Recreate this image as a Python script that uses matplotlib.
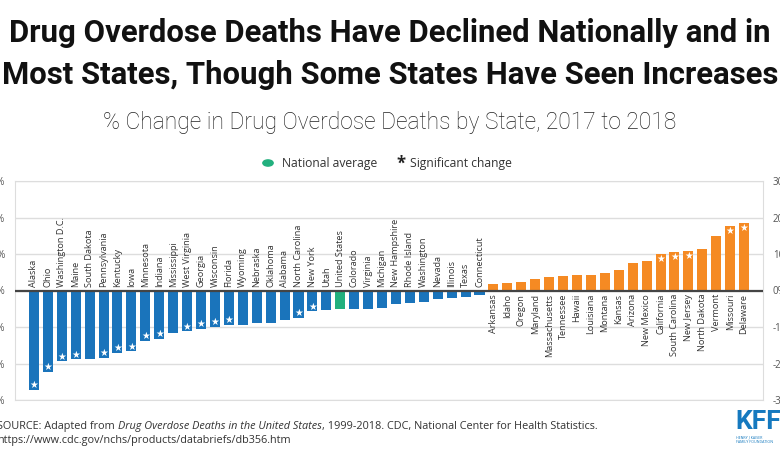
import matplotlib
matplotlib.use("Agg")
import matplotlib.pyplot as plt
import numpy as np

# % change 2017 -> 2018
states = ["Alaska", "Ohio", "Washington D.C.", "Maine", "South Dakota", "Pennsylvania",
          "Kentucky", "Iowa", "Minnesota", "Indiana", "Mississippi", "West Virginia",
          "Georgia", "Wisconsin", "Florida", "Wyoming", "Nebraska", "Oklahoma", "Alabama",
          "North Carolina", "New York", "Utah", "United States", "Colorado", "Virginia",
          "Michigan", "New Hampshire", "Rhode Island", "Washington", "Nevada", "Illinois",
          "Texas", "Connecticut",
          "Arkansas", "Idaho", "Oregon", "Maryland", "Massachusetts", "Tennessee", "Hawaii",
          "Louisiana", "Montana", "Kansas", "Arizona", "New Mexico", "California",
          "South Carolina", "New Jersey", "North Dakota", "Vermont", "Missouri", "Delaware"]
pct_change = [-27.3, -22.2, -19.4, -18.9, -18.9, -18.5, -17.0, -16.7, -13.8, -13.2, -11.7,
              -11.2, -10.6, -9.9, -9.5, -9.4, -8.9, -8.9, -8.2, -7.5, -5.7, -5.4, -5.1,
              -5.1, -5.0, -4.8, -3.8, -3.5, -3.2, -2.4, -2.0, -1.7, -1.3,
              1.7, 2.0, 2.2, 3.2, 3.8, 4.0, 4.2, 4.3, 4.8, 5.7, 7.6, 8.1, 9.9, 10.6, 10.7,
              11.3, 14.8, 17.6, 18.4]
significant = ["Alaska", "Ohio", "Washington D.C.", "Maine", "Pennsylvania", "Kentucky", "Iowa",
               "Minnesota", "Indiana", "West Virginia", "Georgia", "Wisconsin", "Florida",
               "North Carolina", "New York", "California", "South Carolina", "New Jersey",
               "Missouri", "Delaware"]
y_ticks = [-30, -20, -10, 0, 10, 20, 30]

BLUE = "#1a74bb"
ORANGE = "#f58a23"
GREEN = "#22b07e"
FONT = ["Open Sans", "DejaVu Sans"]
HEAD = ["Roboto", "DejaVu Sans"]

fig = plt.figure(figsize=(7.8, 4.7), dpi=100)
ax = fig.add_axes([15 / 780, 1 - 400 / 470, 748 / 780, 219 / 470])

x = np.arange(len(states))
vals = np.array(pct_change)
colors = []
for s, v in zip(states, vals):
    if s == "United States":
        colors.append(GREEN)
    elif v < 0:
        colors.append(BLUE)
    else:
        colors.append(ORANGE)
ax.bar(x, vals, width=0.72, color=colors, zorder=2)

# state labels sit on the other side of the zero line
for i, (s, v) in enumerate(zip(states, vals)):
    if v < 0:
        ax.text(i, 0.9, s, rotation=90, ha="center", va="bottom", fontsize=6.6,
                color="#333333", family=FONT)
    else:
        ax.text(i, -0.9, s, rotation=90, ha="center", va="top", fontsize=6.6,
                color="#333333", family=FONT)
    if s in significant:
        ax.text(i, v - np.sign(v) * 1.3, "\u2605", ha="center", va="center", fontsize=7,
                color="white", family=["DejaVu Sans"], zorder=3)

ax.axhline(0, color="#444444", lw=1.6, zorder=3)
ax.set_xlim(-1.36, len(states) - 1 + 1.36)
ax.set_ylim(-30, 30)
ax.set_yticks(y_ticks)
ax.yaxis.grid(True, color="#dddddd", lw=1)
ax.set_axisbelow(True)
ax.set_xticks([])
for sp in ax.spines.values():
    sp.set_color("#dddddd")
ax.tick_params(axis="y", length=0, labelsize=7, labelcolor="#555555", pad=7,
               labelright=True)
ax.set_yticklabels([f"{t}%" for t in y_ticks], family=FONT)

# titles
fig.text(0.5, 1 - 33 / 470, "Drug Overdose Deaths Have Declined Nationally and in",
         ha="center", va="center", fontsize=22.4, weight="bold", family=HEAD, color="#111111")
fig.text(0.5, 1 - 75 / 470, "Most States, Though Some States Have Seen Increases",
         ha="center", va="center", fontsize=22.4, weight="bold", family=HEAD, color="#111111")
fig.text(0.5, 1 - 123 / 470, "% Change in Drug Overdose Deaths by State, 2017 to 2018",
         ha="center", va="center", fontsize=16.4, weight="light", family=HEAD,
         color="#222222")

# legend
fig.patches.append(plt.Circle((268 / 780, 1 - 163 / 470), 0.0066, color=GREEN,
                              transform=fig.transFigure, figure=fig))
fig.text(282 / 780, 1 - 163 / 470, "National average", ha="left", va="center",
         fontsize=8.7, family=FONT, color="#333333")
fig.text(396 / 780, 1 - 164 / 470, "*", ha="left", va="center", fontsize=12,
         weight="bold", family=FONT, color="#222222")
fig.text(410 / 780, 1 - 163 / 470, "Significant change", ha="left", va="center",
         fontsize=8.7, family=FONT, color="#333333")

# source
t1 = fig.text(-3 / 780, 1 - 426 / 470, "SOURCE: Adapted from ", ha="left", va="center",
              fontsize=7.8, family=FONT, color="#333333")
t2 = fig.text(0, 0, "Drug Overdose Deaths in the United States", fontsize=7.8,
              style="italic", family=FONT, color="#333333", ha="left", va="center")
t3 = fig.text(0, 0, ", 1999-2018. CDC, National Center for Health Statistics.",
              fontsize=7.8, family=FONT, color="#333333", ha="left", va="center")
fig.canvas.draw()
r = fig.canvas.get_renderer()
bb1 = t1.get_window_extent(r)
t2.set_position(((bb1.x1) / 780, 1 - 426 / 470))
bb2 = t2.get_window_extent(r)
t3.set_position(((bb2.x1) / 780, 1 - 426 / 470))
fig.text(-3 / 780, 1 - 441 / 470, "https://www.cdc.gov/nchs/products/databriefs/db356.htm",
         ha="left", va="center", fontsize=7.8, family=FONT, color="#333333")

# logo
fig.text(735 / 780, 1 - 422 / 470, "KFF", ha="left", va="center", fontsize=19,
         weight="bold", family=HEAD, color="#1579bf")
fig.text(736 / 780, 1 - 440 / 470, "HENRY J KAISER\nFAMILY FOUNDATION", ha="left",
         va="center", fontsize=2.6, family=FONT, color="#1579bf", linespacing=1.1)

fig.savefig("out.png", dpi=100)
